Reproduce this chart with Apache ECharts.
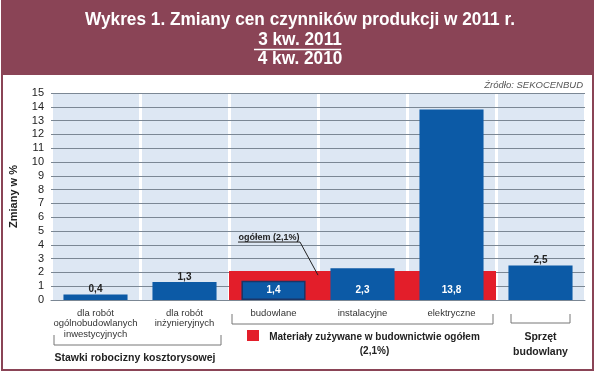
<!DOCTYPE html>
<html>
<head>
<meta charset="utf-8">
<script src="https://cdn.jsdelivr.net/npm/echarts@6/dist/echarts.min.js"></script>
<style>
html,body{margin:0;padding:0;background:#fff;}
#c{width:600px;height:377px;}
</style>
</head>
<body>
<div id="c"></div>
<script>
// ---- data ----
const categories = ['dla robót\nogólnobudowlanych\ninwestycyjnych', 'dla robót\ninżynieryjnych', 'budowlane', 'instalacyjne', 'elektryczne', ''];
const values = [0.4, 1.3, 1.4, 2.3, 13.8, 2.5];
const materialsTotal = [null, null, 2.1, 2.1, 2.1, null];
const insideLabelIdx = [2, 3, 4];
const yMin = 0, yMax = 15, yInterval = 1;
const titleLines = ['Wykres 1. Zmiany cen czynników produkcji w 2011 r.', '3 kw. 2011', '4 kw. 2010'];
const yAxisName = 'Zmiany w %';
const sourceText = 'Źródło: SEKOCENBUD';
const annotationText = 'ogółem (2,1%)';
const annotationTarget = 1.8; // value where pointer ends
const groupLabels = ['Stawki robocizny kosztorysowej', 'Materiały zużywane w budownictwie ogółem\n(2,1%)', 'Sprzęt\nbudowlany'];

const BLUE = '#0c5aa6', RED = '#e31e2a', MAROON = '#8a4456';
const fmt = v => String(v).replace('.', ',');

const chart = echarts.init(document.getElementById('c'), null, {renderer: 'canvas'});

const blueData = values.map((v, i) => {
  const inside = insideLabelIdx.includes(i);
  const d = {value: v,
    label: inside ? {position: 'insideBottom', distance: 5, color: '#fff'} : {position: 'top', distance: 0, color: '#222'}};
  if (i === 2) d.itemStyle = {borderColor: '#1b3566', borderWidth: 1.5};
  return d;
});

chart.setOption({
  animation: false,
  grid: {left: 50, right: 15, top: 93, bottom: 77},
  xAxis: [{
    type: 'category', data: categories, z: 0,
    axisLine: {show: true, lineStyle: {color: '#7b8794', width: 1}},
    axisTick: {show: false},
    axisLabel: {interval: 0, fontSize: 9.5, lineHeight: 10.5, color: '#333', margin: 8, fontFamily: 'Liberation Sans, Arial'},
    splitArea: {show: true, areaStyle: {color: ['#dde7f3']}},
    splitLine: {show: true, lineStyle: {color: '#ffffff', width: 3}}
  }, {
    type: 'category', data: categories, show: false
  }],
  yAxis: {
    type: 'value', min: yMin, max: yMax, interval: yInterval, z: 1,
    name: yAxisName, nameLocation: 'middle', nameRotate: 90, nameGap: 32,
    nameTextStyle: {fontSize: 11, fontWeight: 'bold', color: '#222', fontFamily: 'Liberation Sans, Arial'},
    axisLine: {show: false}, axisTick: {show: false},
    axisLabel: {fontSize: 11, color: '#222', margin: 7, fontFamily: 'Liberation Sans, Arial'},
    splitLine: {show: true, lineStyle: {color: '#7b8794', width: 1}}
  },
  series: [{
    name: 'Materiały', type: 'bar', xAxisIndex: 1, data: materialsTotal,
    barWidth: '100%', itemStyle: {color: RED}, z: 2
  }, {
    name: 'Zmiany', type: 'bar', xAxisIndex: 0, data: blueData,
    barWidth: '72%', itemStyle: {color: BLUE}, z: 3,
    label: {show: true, formatter: p => fmt(p.value), fontSize: 10, fontWeight: 'bold', fontFamily: 'Liberation Sans, Arial'}
  }]
});

// ---- annotations computed from axes ----
const px = i => chart.convertToPixel({xAxisIndex: 0}, i);
const py = v => chart.convertToPixel({yAxisIndex: 0}, v);
const step = px(1) - px(0);
const edgeL = i => px(i) - step / 2;
const edgeR = i => px(i) + step / 2;

const bracketStyle = {stroke: '#777', lineWidth: 1, fill: null};
function bracket(x1, x2, yTop, yBot) {
  return {type: 'polyline', shape: {points: [[x1, yTop], [x1, yBot], [x2, yBot], [x2, yTop]]}, style: bracketStyle, silent: true};
}
const txt = (x, y, text, font, extra, z) => ({type: 'text', x: x, y: y, z: z || 5, style: Object.assign({text: text, fill: '#222', align: 'center', verticalAlign: 'middle', font: font}, extra || {})});

const ptrX = edgeR(2);
const ptrY = py(annotationTarget);
const annX1 = edgeL(2) + 9, annX2 = ptrX - 18, annY = py(4.2);
const TF = 'bold 19px "Liberation Sans", Arial, sans-serif';
// condensed look: squeeze title horizontally to the target width
const mctx = document.createElement('canvas').getContext('2d');
mctx.font = TF;
const titleScale = 430 / mctx.measureText(titleLines[0]).width;
const ttl = (y, s) => Object.assign(txt(300, y, s, TF, {fill: '#fff'}, 12), {scaleX: titleScale, originX: 0});

const g = [
  {type: 'rect', shape: {x: 2, y: 0, width: 591, height: 370}, style: {fill: null, stroke: MAROON, lineWidth: 2}, z: 10},
  {type: 'rect', shape: {x: 1, y: 0, width: 593, height: 75}, style: {fill: MAROON}, z: 10},
  ttl(19.5, titleLines[0]),
  ttl(39.5, titleLines[1]),
  {type: 'line', shape: {x1: 254, y1: 49.5, x2: 341, y2: 49.5}, style: {stroke: '#fff', lineWidth: 1.5}, z: 12},
  ttl(59, titleLines[2]),
  txt(edgeR(5) - 2, 85, sourceText, 'italic 9.5px "Liberation Sans", Arial, sans-serif', {fill: '#555', align: 'right'}),
  // pointer annotation
  txt((annX1 + annX2) / 2, annY - 5, annotationText, 'bold 9px "Liberation Sans", Arial, sans-serif'),
  {type: 'polyline', shape: {points: [[annX1, annY], [annX2, annY], [ptrX, ptrY]]}, style: {stroke: '#222', lineWidth: 1, fill: null}, z: 20},
  // brackets
  bracket(edgeL(0) + 3, edgeR(1) - 8, 335, 345),
  bracket(edgeL(2) + 3, edgeR(4) - 3, 314, 324),
  bracket(edgeL(5) + 15, edgeR(5) - 15, 314, 323),
  txt((edgeL(0) + edgeR(1)) / 2 - 5, 358, groupLabels[0], 'bold 10.5px "Liberation Sans", Arial, sans-serif'),
  {type: 'rect', shape: {x: edgeL(2) + 18, y: 330, width: 12, height: 11}, style: {fill: RED}},
  txt((edgeL(2) + edgeR(4)) / 2 + 12, 344, groupLabels[1], 'bold 10px "Liberation Sans", Arial, sans-serif', {lineHeight: 14}),
  txt(px(5), 344.5, groupLabels[2], 'bold 10.5px "Liberation Sans", Arial, sans-serif', {lineHeight: 15})
];
chart.setOption({graphic: g});
</script>
</body>
</html>
